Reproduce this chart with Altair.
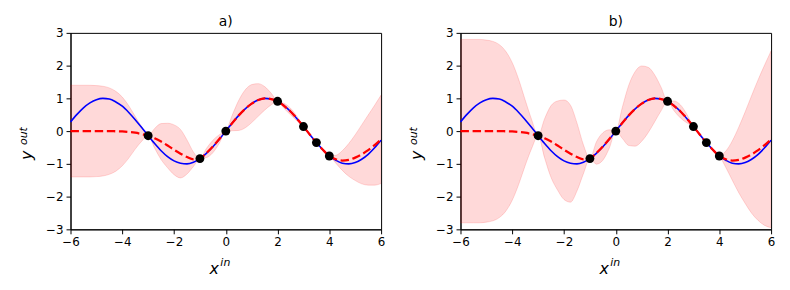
import altair as alt
import pandas as pd

# ---- data ----
x_grid = [-6.0, -5.75, -5.5, -5.25, -5.0, -4.75, -4.5, -4.25, -4.0, -3.75, -3.5, -3.25, -3.0,
          -2.75, -2.5, -2.25, -2.0, -1.75, -1.5, -1.25, -1.0,
          -0.75, -0.5, -0.25, 0.0,
          0.25, 0.5, 0.75, 1.0, 1.25, 1.5, 1.75, 2.0,
          2.25, 2.5, 2.75, 3.0, 3.25, 3.5, 3.75, 4.0,
          4.25, 4.5, 4.75, 5.0, 5.25, 5.5, 5.75, 6.0]

true_curve = [0.28, 0.51, 0.71, 0.86, 0.96, 1.00, 0.98, 0.89, 0.76, 0.57, 0.35, 0.11, -0.14,
              -0.38, -0.60, -0.78, -0.91, -0.98, -1.00, -0.95, -0.84,
              -0.68, -0.48, -0.25, 0.00,
              0.25, 0.48, 0.68, 0.84, 0.95, 1.00, 0.98, 0.91,
              0.78, 0.60, 0.38, 0.14, -0.11, -0.35, -0.57, -0.76,
              -0.89, -0.98, -1.00, -0.96, -0.86, -0.71, -0.51, -0.28]

gp_mean = [0.0, 0.0, 0.0, 0.0, 0.0, 0.0, 0.0, -0.005, -0.01, -0.025, -0.05, -0.09, -0.14,
           -0.22, -0.32, -0.44, -0.57, -0.69, -0.79, -0.86, -0.84,
           -0.67, -0.47, -0.24, 0.0,
           0.25, 0.48, 0.68, 0.84, 0.95, 1.00, 0.98, 0.91,
           0.77, 0.60, 0.38, 0.14, -0.11, -0.35, -0.57, -0.76,
           -0.86, -0.90, -0.88, -0.81, -0.71, -0.58, -0.43, -0.25]

sd_a = [1.40, 1.40, 1.40, 1.40, 1.39, 1.37, 1.32, 1.22, 1.05, 0.80, 0.50, 0.22, 0.0,
        0.30, 0.55, 0.68, 0.76, 0.74, 0.52, 0.22, 0.0,
        0.14, 0.19, 0.13, 0.0,
        0.24, 0.46, 0.58, 0.58, 0.50, 0.36, 0.18, 0.0,
        0.08, 0.10, 0.07, 0.0, 0.02, 0.0, 0.02, 0.0,
        0.12, 0.30, 0.50, 0.70, 0.90, 1.07, 1.22, 1.35]

sd_b = [2.80, 2.80, 2.80, 2.80, 2.78, 2.74, 2.64, 2.44, 2.10, 1.60, 1.00, 0.44, 0.0,
        0.60, 1.10, 1.36, 1.52, 1.48, 1.04, 0.44, 0.0,
        0.34, 0.42, 0.28, 0.0,
        0.47, 0.92, 1.14, 1.15, 1.00, 0.72, 0.36, 0.0,
        0.15, 0.20, 0.13, 0.0, 0.04, 0.0, 0.04, 0.0,
        0.25, 0.60, 1.00, 1.40, 1.80, 2.15, 2.45, 2.70]

obs_x = [-3.0, -1.0, 0.0, 2.0, 3.0, 3.5, 4.0]
obs_y = [-0.14, -0.84, 0.0, 0.91, 0.14, -0.35, -0.76]

panel_titles = ["a)", "b)"]
x_ticks = [-6, -4, -2, 0, 2, 4, 6]
y_ticks = [-3, -2, -1, 0, 1, 2, 3]
xlabel_main, xlabel_sup = "x", "in"
ylabel_main, ylabel_sup = "y", "out"

W, H = 313, 198
FONT = "DejaVu Sans"

curves = pd.DataFrame({"x": x_grid, "truth": true_curve, "mean": gp_mean,
                       "sd_a": sd_a, "sd_b": sd_b})
obs = pd.DataFrame({"x": obs_x, "y": obs_y})
one = pd.DataFrame({"k": [0]})

xs = alt.Scale(domain=[-6, 6], nice=False, zero=False)
ys = alt.Scale(domain=[-3, 3], nice=False, zero=False)
xax = alt.Axis(values=x_ticks, title=None, labelFlush=False, labelOverlap=False)
yax = alt.Axis(values=y_ticks, title=None, labelFlush=False, labelOverlap=False,
               tickCount=7)


def X(f):
    return alt.X(f, scale=xs, axis=xax)


def Y(f):
    return alt.Y(f, scale=ys, axis=yax)


def panel(sd_field, title):
    base = alt.Chart(curves)
    band = base.transform_calculate(
        lo=f"datum.mean - datum.{sd_field}", hi=f"datum.mean + datum.{sd_field}"
    ).mark_area(color="#ff0000", fillOpacity=0.15, stroke="#ff0000", strokeOpacity=0.15,
                strokeWidth=1, interpolate="monotone", clip=True).encode(
        x=X("x:Q"), y=Y("lo:Q"), y2="hi:Q",
    )
    truth = base.mark_line(color="#0000ff", strokeWidth=1.6, interpolate="monotone").encode(
        x=X("x:Q"), y=Y("truth:Q"))
    mean = base.mark_line(color="#ff0000", strokeWidth=2.3, strokeDash=[8.5, 3.7],
                          interpolate="monotone").encode(
        x=X("x:Q"), y=Y("mean:Q"))
    pts = alt.Chart(obs).mark_circle(color="black", opacity=1, size=80).encode(
        x=X("x:Q"), y=Y("y:Q"))

    def txt(t, x, y, size, angle=0, italic=False, align="left"):
        m = alt.Chart(one).mark_text(text=t, font=FONT, fontSize=size, color="black",
                                     align=align, baseline="alphabetic", angle=angle,
                                     fontStyle="italic" if italic else "normal")
        return m.encode(x=alt.value(x), y=alt.value(y))

    texts = [
        txt(title, W / 2, -6.5, 14, align="center"),
        txt(xlabel_main, 140, 243, 16, italic=True),
        txt(xlabel_sup, 151, 235, 11, italic=True),
        txt(ylabel_main, -39, 128, 16, angle=270, italic=True),
        txt(ylabel_sup, -44, 113, 11, angle=270, italic=True),
    ]
    return alt.layer(band, truth, mean, pts, *texts).properties(width=W, height=H)


chart = alt.hconcat(panel("sd_a", panel_titles[0]), panel("sd_b", panel_titles[1]),
                    spacing=80, bounds="flush").properties(
    padding={"left": 9, "top": 6, "right": 5, "bottom": 3}
).configure_view(stroke="black", strokeWidth=1).configure_axis(
    grid=False, labelFont=FONT, labelFontSize=12, labelColor="black",
    tickColor="black", tickSize=4.5, tickWidth=1, domainColor="black", domainWidth=1,
    labelPadding=3, labelOverlap=False, labelFlush=False,
)

chart.save("out.html", embed_options={"renderer": "svg", "actions": False})
